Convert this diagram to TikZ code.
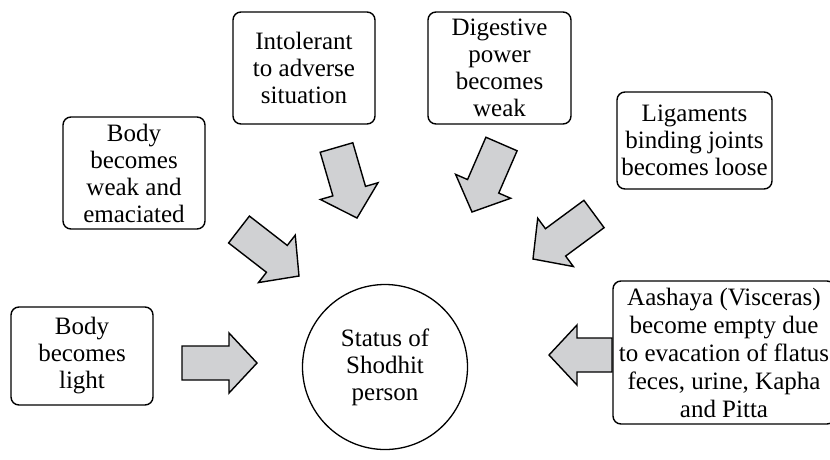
\documentclass[tikz,border=0pt]{standalone}
\usepackage{fontspec}
\setmainfont{Liberation Serif}
\usetikzlibrary{calc}

\definecolor{arrowgray}{RGB}{208,209,211}

% Block arrow from tail centre #1 to tip #2 (named coordinates)
\newcommand\fatarrow[2]{%
  \coordinate (#1-hb) at ($(#2)!28pt!(#1)$);
  \filldraw[fatarr]
    ($(#1)!17pt!90:(#2)$) -- ($(#1-hb)!17pt!-90:(#1)$) --
    ($(#1-hb)!30pt!-90:(#1)$) -- (#2) --
    ($(#1-hb)!30pt!90:(#1)$) -- ($(#1-hb)!17pt!90:(#1)$) --
    ($(#1)!17pt!-90:(#2)$) -- cycle;
}

\tikzset{
  box/.style={draw=black, line width=1.4pt, rounded corners=8pt,
    align=center, inner sep=2pt, font=\fontsize{25}{27}\selectfont},
  hub/.style={draw=black, line width=1.3pt, circle, minimum size=165pt,
    inner sep=0pt, align=center, font=\fontsize{25}{27}\selectfont},
  fatarr/.style={fill=arrowgray, draw=black, line width=1.4pt, line join=miter}
}

\begin{document}
\begin{tikzpicture}[x=1pt, y=-1pt]
\useasboundingbox (0,0) rectangle (830,459);

% Centre
\node[hub] (hub) at (385,367) {Status of\\Shodhit\\person};

% Surrounding boxes
\node[box, minimum width=142pt, minimum height=98pt] (light) at (82,356)
  {Body\\becomes\\light};
\node[box, minimum width=142pt, minimum height=112pt] (weak) at (134,173)
  {Body\\becomes\\weak and\\emaciated};
\node[box, minimum width=142pt, minimum height=112pt] (intol) at (304,68)
  {Intolerant\\to adverse\\situation};
\node[box, minimum width=143pt, minimum height=112pt] (digest) at (499.5,68)
  {Digestive\\power\\becomes\\weak};
\node[box, minimum width=155pt, minimum height=97pt, inner sep=1pt] (ligam) at (694.5,140.5)
  {Ligaments\\binding joints\\becomes loose};
\node[box, minimum width=222pt, minimum height=143pt, inner sep=0pt,
  font=\fontsize{25}{28}\selectfont] (visc) at (724,352.5)
  {Aashaya (Visceras)\\become empty due\\to evacation of flatus\\feces, urine, Kapha\\and Pitta};

% Arrow tails and tips
\coordinate (t1) at (182,363);   \coordinate (p1) at (257,363);
\coordinate (t2) at (239,229.5); \coordinate (p2) at (299,276);
\coordinate (t3) at (336.5,147.5); \coordinate (p3) at (357,218);
\coordinate (t4) at (501.5,144); \coordinate (p4) at (472,212);
\coordinate (t5) at (594,214);   \coordinate (p5) at (533,259);
\coordinate (t6) at (612,355);   \coordinate (p6) at (549,355);

\fatarrow{t1}{p1}
\fatarrow{t2}{p2}
\fatarrow{t3}{p3}
\fatarrow{t4}{p4}
\fatarrow{t5}{p5}
\fatarrow{t6}{p6}
\end{tikzpicture}
\end{document}
